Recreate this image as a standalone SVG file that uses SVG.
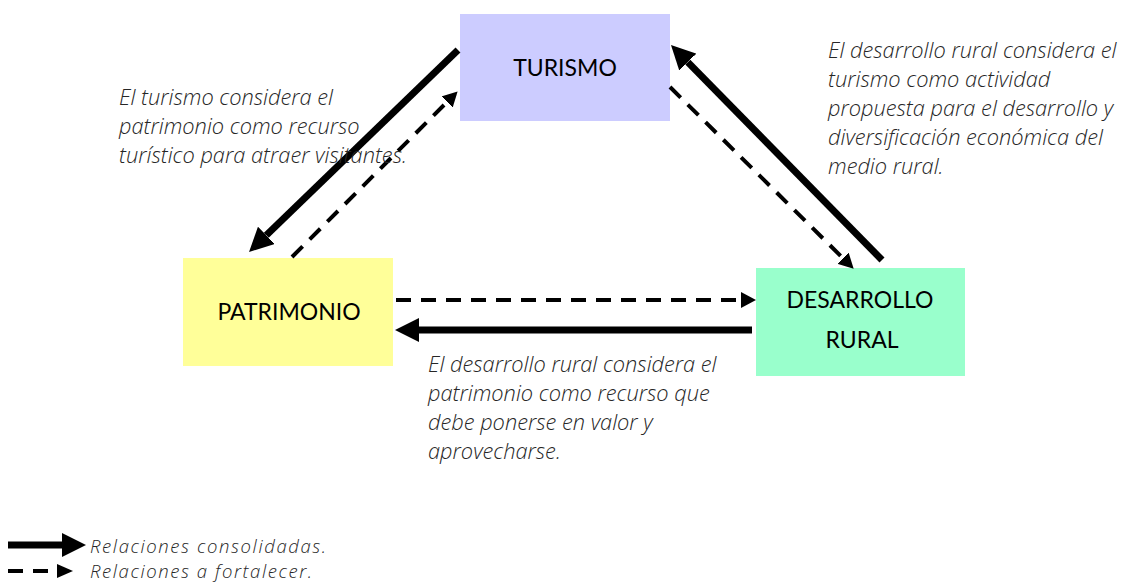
<svg xmlns="http://www.w3.org/2000/svg" width="1121" height="585" viewBox="0 0 1121 585">
<style>
.lbl{font-family:Lato,"Open Sans","Liberation Sans",sans-serif;font-size:23px;fill:#000;text-anchor:middle}
.desc{font-family:"Open Sans",Lato,"Liberation Sans",sans-serif;font-size:21.8px;font-style:italic;font-weight:300;fill:#262626}
.leg{font-family:"Open Sans",Lato,"Liberation Sans",sans-serif;font-size:18.5px;font-style:italic;font-weight:300;fill:#262626}
.solid{stroke:#000;stroke-width:7;fill:none}
.dash{stroke:#000;stroke-width:4;fill:none;stroke-dasharray:15 10}
</style>
<defs>
<marker id="hs" markerUnits="userSpaceOnUse" markerWidth="24" markerHeight="24" refX="0" refY="12" orient="auto">
<path d="M0,0 L24,12 L0,24 z" fill="#000"/>
</marker>
<marker id="hd" markerUnits="userSpaceOnUse" markerWidth="15" markerHeight="16" refX="0" refY="8" orient="auto">
<path d="M0,0 L15,8 L0,16 z" fill="#000"/>
</marker>
</defs>
<rect width="1121" height="585" fill="#fff"/>
<g id="turismo">
<rect x="460" y="14" width="210" height="107" fill="#ccccff"/>
<text class="lbl" x="565" y="76">TURISMO</text>
</g>
<g id="patrimonio">
<rect x="183" y="258" width="210" height="108" fill="#ffff99"/>
<text class="lbl" x="289" y="320">PATRIMONIO</text>
</g>
<g id="desarrollo">
<rect x="756" y="268" width="209" height="108" fill="#99ffcc"/>
<text class="lbl" x="860" y="308">DESARROLLO</text>
<text class="lbl" x="862" y="348">RURAL</text>
</g>
<g id="connectors">
<line class="solid" x1="458" y1="50" x2="266.3" y2="235.3" marker-end="url(#hs)"/>
<line class="dash" x1="292" y1="257" x2="447" y2="102" marker-end="url(#hd)"/>
<line class="solid" x1="882" y1="260" x2="687.8" y2="62.1" marker-end="url(#hs)"/>
<line class="dash" x1="670" y1="87" x2="843" y2="258.2" marker-end="url(#hd)"/>
<line class="dash" x1="396" y1="300" x2="741" y2="300" marker-end="url(#hd)"/>
<line class="solid" x1="752" y1="330" x2="419" y2="330" marker-end="url(#hs)"/>
</g>
<g id="texts">
<text class="desc" x="119"><tspan x="119" y="105">El turismo considera el</tspan><tspan x="119" y="134">patrimonio como recurso</tspan><tspan x="119" y="163">turístico para atraer visitantes.</tspan></text>
<text class="desc" x="828"><tspan x="828" y="58">El desarrollo rural considera el</tspan><tspan x="828" y="87">turismo como actividad</tspan><tspan x="828" y="116">propuesta para el desarrollo y</tspan><tspan x="828" y="145">diversificación económica del</tspan><tspan x="828" y="174">medio rural.</tspan></text>
<text class="desc" x="428"><tspan x="428" y="372">El desarrollo rural considera el</tspan><tspan x="428" y="401">patrimonio como recurso que</tspan><tspan x="428" y="430">debe ponerse en valor y</tspan><tspan x="428" y="459">aprovecharse.</tspan></text>
</g>
<g id="legend">
<line class="solid" x1="8" y1="545" x2="62" y2="545" marker-end="url(#hs)"/>
<line class="dash" x1="8" y1="571" x2="56" y2="571" stroke-dasharray="17 12"/>
<path d="M57,564 L73,571 L57,578 z" fill="#000"/>
<text class="leg" x="90" y="553" textLength="236" lengthAdjust="spacing">Relaciones consolidadas.</text>
<text class="leg" x="90" y="578" textLength="222" lengthAdjust="spacing">Relaciones a fortalecer.</text>
</g>
</svg>
